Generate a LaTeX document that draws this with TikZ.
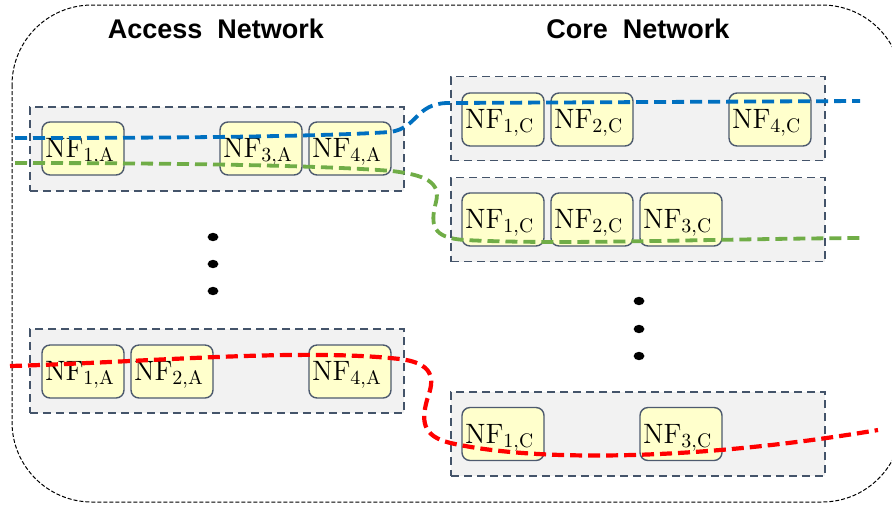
\documentclass[tikz,border=0pt]{standalone}
\usepackage{fontspec}
\newfontfamily\headfont{Liberation Sans}
\usetikzlibrary{arrows.meta}
\definecolor{slate}{HTML}{44546A}
\definecolor{grpgray}{HTML}{F2F2F2}
\definecolor{nfyellow}{HTML}{FFFFCC}
\definecolor{nfedge}{HTML}{4D5A6E}
\definecolor{flowblue}{HTML}{0070C0}
\definecolor{flowgreen}{HTML}{70AD47}
\definecolor{flowred}{HTML}{FF0000}

\begin{document}
\begin{tikzpicture}[x=0.5pt,y=-0.5pt,
    grp/.style={draw=slate,dash pattern=on 4pt off 2.5pt,line width=0.6pt,fill=grpgray,
        minimum width=187pt,minimum height=42pt,inner sep=0pt},
    nf/.style={draw=nfedge,line width=0.7pt,fill=nfyellow,rounded corners=4pt,
        minimum width=41pt,minimum height=26.5pt,text width=38pt,align=left,
        inner xsep=1.5pt,inner ysep=0pt,text height=11.5pt,text depth=2.5pt,
        font=\fontsize{14}{16}\selectfont},
    flow/.style={dash pattern=on 6pt off 3pt,line width=1.9pt},
    title/.style={anchor=base,font=\headfont\bfseries\fontsize{13.5}{16}\selectfont}]
		\clip (0,0) rectangle (892,505);
		\draw[line width=0.5pt,dash pattern=on 2pt off 1pt,rounded corners=40pt] (12,5) rectangle (902,502);

		\node[title] (acctitle) at (216,38) {Access~ Network};
		\node[title] (coretitle) at (638,38) {Core~ Network};

		% access side
		\node[grp] (accTop) at (217,149) {};
		\node[grp] (accBot) at (217,371) {};
		\node[nf] (a1nf1) at (83,148.5) {$\mathrm{NF}_{1,\mathrm{A}}$};
		\node[nf] (a1nf3) at (261,148.5) {$\mathrm{NF}_{3,\mathrm{A}}$};
		\node[nf] (a1nf4) at (350,148.5) {$\mathrm{NF}_{4,\mathrm{A}}$};
		\node[nf] (a2nf1) at (83,371.5) {$\mathrm{NF}_{1,\mathrm{A}}$};
		\node[nf] (a2nf2) at (172,371.5) {$\mathrm{NF}_{2,\mathrm{A}}$};
		\node[nf] (a2nf4) at (350,371.5) {$\mathrm{NF}_{4,\mathrm{A}}$};
		\foreach \y in {237,264,291}
			\fill (213,\y) ellipse (2.7pt and 2.1pt);

		% core side
		\node[grp] (coreTop) at (638,118.5) {};
		\node[grp] (coreMid) at (638,219.5) {};
		\node[grp] (coreBot) at (638,434) {};
		\node[nf] (c1nf1) at (503,119.5) {$\mathrm{NF}_{1,\mathrm{C}}$};
		\node[nf] (c1nf2) at (592,119.5) {$\mathrm{NF}_{2,\mathrm{C}}$};
		\node[nf] (c1nf4) at (770,119.5) {$\mathrm{NF}_{4,\mathrm{C}}$};
		\node[nf] (c2nf1) at (503,219.5) {$\mathrm{NF}_{1,\mathrm{C}}$};
		\node[nf] (c2nf2) at (592,219.5) {$\mathrm{NF}_{2,\mathrm{C}}$};
		\node[nf] (c2nf3) at (681,219.5) {$\mathrm{NF}_{3,\mathrm{C}}$};
		\node[nf] (c3nf1) at (503,434) {$\mathrm{NF}_{1,\mathrm{C}}$};
		\node[nf] (c3nf3) at (681,434) {$\mathrm{NF}_{3,\mathrm{C}}$};
		\foreach \y in {301,329,356}
			\fill (639,\y) ellipse (2.7pt and 2.1pt);

		% service chains
		\coordinate (blueIn) at (15,138);
		\coordinate (blueOut) at (860,101);
		\coordinate (greenIn) at (15,163);
		\coordinate (greenOut) at (860,238);
		\coordinate (redIn) at (10,366);
		\coordinate (redOut) at (878,430);

		\draw[flow,flowblue] (blueIn) .. controls (200,138) and (330,136) .. (390,132)
			.. controls (418,128) and (415,104) .. (447,103) -- (blueOut);
		\draw[flow,flowgreen] (greenIn) .. controls (200,163) and (330,166) .. (392,171)
			.. controls (425,175) and (441,182) .. (436,202)
			.. controls (430,225) and (432,238) .. (465,240)
			.. controls (560,245) and (700,239) .. (greenOut);
		\draw[flow,flowred,line width=2.1pt] (redIn) .. controls (150,362) and (300,348) .. (400,359)
			.. controls (440,364) and (432,385) .. (427,400)
			.. controls (420,425) and (425,438) .. (455,444)
			.. controls (540,462) and (700,460) .. (redOut);
	\end{tikzpicture}
\end{document}
